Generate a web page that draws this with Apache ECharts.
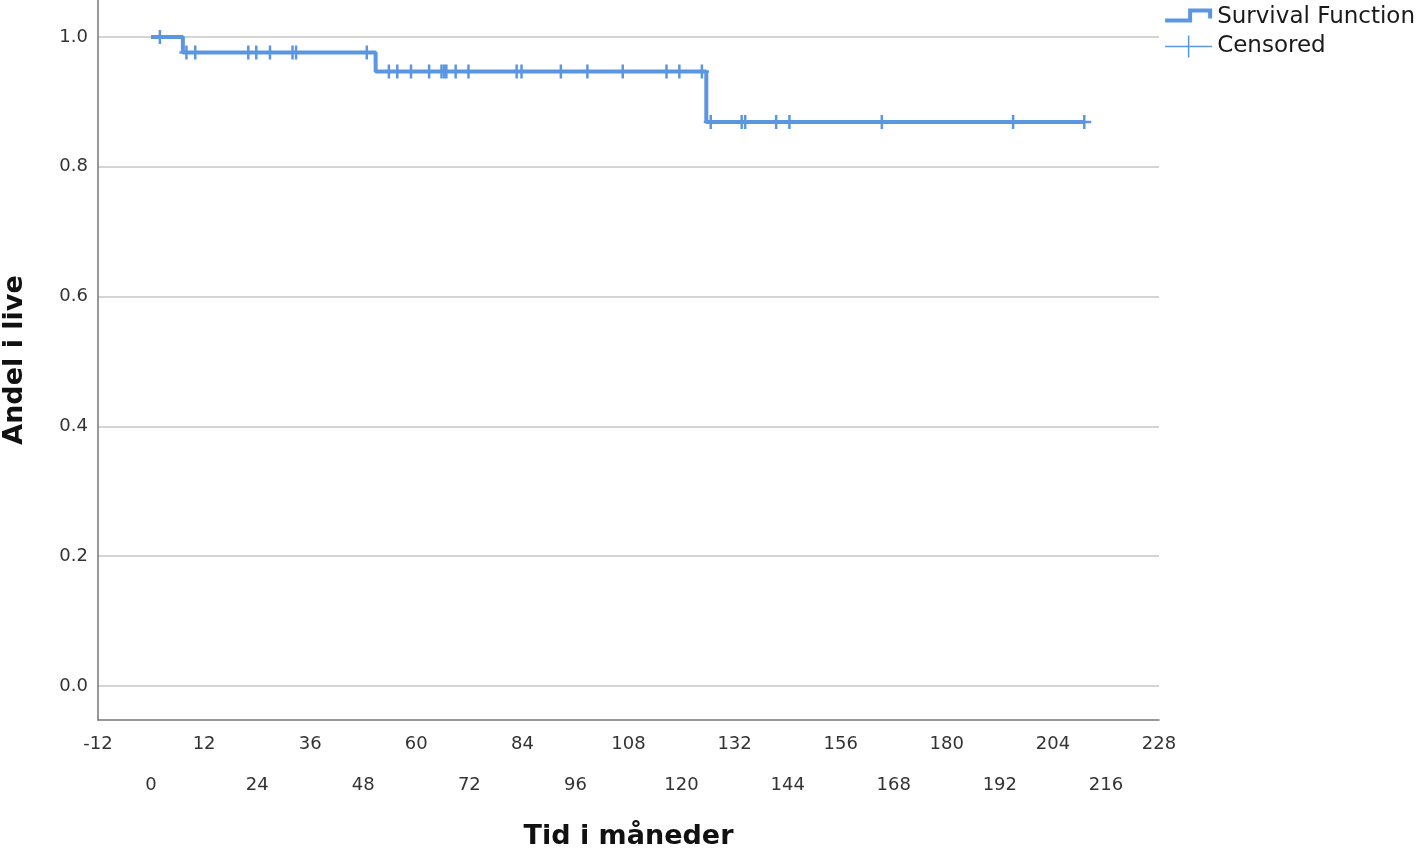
<!DOCTYPE html>
<html>
<head>
<meta charset="utf-8">
<script src="https://cdn.jsdelivr.net/npm/echarts@6/dist/echarts.min.js"></script>
<style>
html,body{margin:0;padding:0;background:#fff;}
#chart{width:1416px;height:849px;}
</style>
</head>
<body>
<div id="chart"></div>
<script>
// Step function of the survival estimate
const survTimes = [0, 7.2, 50.8, 125.6, 211.1];
const survValues = [1.0, 0.976, 0.947, 0.869, 0.869];
// Censored observation times (months)
const censoredTimes = [2.0, 8.0, 10.0, 22.0, 23.8, 26.9, 32.0, 32.8, 48.8, 53.8, 55.7, 58.8, 62.9, 65.7, 66.3, 66.8, 68.9, 71.8, 82.7, 83.8, 92.7, 98.7, 106.7, 116.6, 119.5, 124.6, 126.6, 133.6, 134.4, 141.4, 144.4, 165.3, 195.0, 211.1];
const yTicks = [0, 0.2, 0.4, 0.6, 0.8, 1.0];
const xTicks = [-12, 0, 12, 24, 36, 48, 60, 72, 84, 96, 108, 120, 132, 144, 156, 168, 180, 192, 204, 216, 228];

const survData = survTimes.map((t, i) => [t, survValues[i]]);
function survAt(t) {
  let v = survValues[0];
  for (let i = 0; i < survTimes.length; i++) { if (survTimes[i] <= t) v = survValues[i]; }
  return v;
}
const censData = censoredTimes.map(t => [t, survAt(t)]);

const blue = '#5b96e0';
const survIcon = 'path://M0,0 L0.05,0 L0,0.05 Z M47,22 L46.95,22 L47,21.95 Z M0,12 H23 V2 H47 V12 H43 V6 H27 V16 H0 Z';
const censIcon = 'path://M0,10.25 H22.75 V0 H24.25 V10.25 H47 V11.75 H24.25 V22 H22.75 V11.75 H0 Z';
const plusSym = 'path://M0,5.75 H5.75 V0 H8.25 V5.75 H14 V8.25 H8.25 V14 H5.75 V8.25 H0 Z';

const chart = echarts.init(document.getElementById('chart'), null, {renderer: 'canvas'});
chart.setOption({
  animation: false,
  backgroundColor: '#ffffff',
  grid: {left: 98, right: 257, top: 0, bottom: 129, containLabel: false, outerBoundsMode: 'none'},
  legend: {
    orient: 'vertical', right: 1, top: 6, padding: 0,
    itemWidth: 47, itemHeight: 22, itemGap: 6,
    align: 'left',
    textStyle: {fontFamily: 'DejaVu Sans', fontSize: 23, color: '#1a1a1a', padding: [0,0,0,0]},
    itemStyle: {borderWidth: 0},
    selectedMode: false,
    data: [
      {name: 'Survival Function', icon: survIcon},
      {name: 'Censored', icon: censIcon}
    ]
  },
  xAxis: {
    type: 'value', min: -12, max: 228, interval: 12,
    name: 'Tid i måneder', nameLocation: 'middle', nameGap: 103,
    nameTextStyle: {fontFamily: 'DejaVu Sans', fontWeight: 'bold', fontSize: 27, color: '#111'},
    axisLine: {show: true, onZero: false, lineStyle: {color: '#777', width: 1.5}},
    axisTick: {show: false},
    splitLine: {show: false},
    axisLabel: {
      margin: 14, fontFamily: 'DejaVu Sans', fontSize: 18, color: '#333', lineHeight: 20.5,
      showMinLabel: true, showMaxLabel: true, hideOverlap: false,
      formatter: function (v) {
        const k = Math.round((v + 12) / 12);
        return (k % 2 === 0) ? String(v) : '\n\n' + v;
      }
    }
  },
  yAxis: {
    type: 'value', min: -0.0524, max: 1.057,
    name: 'Andel i live', nameLocation: 'middle', nameGap: 70, nameRotate: 90,
    nameTextStyle: {fontFamily: 'DejaVu Sans', fontWeight: 'bold', fontSize: 27, color: '#111'},
    axisLine: {show: true, onZero: false, lineStyle: {color: '#777', width: 1.5}},
    axisTick: {show: false, customValues: yTicks},
    splitLine: {show: true, lineStyle: {color: '#c6c6c6', width: 1.5}},
    axisLabel: {
      margin: 10, fontFamily: 'DejaVu Sans', fontSize: 18, color: '#333',
      customValues: yTicks,
      formatter: v => v.toFixed(1)
    }
  },
  series: [
    {
      name: 'Survival Function', type: 'line', step: 'end',
      data: survData, showSymbol: false, symbol: 'none',
      color: blue,
      lineStyle: {color: blue, width: 4},
      z: 2
    },
    {
      name: 'Censored', type: 'scatter',
      data: censData, symbol: plusSym, symbolSize: [14, 14],
      color: blue,
      itemStyle: {color: blue, opacity: 1},
      z: 3
    }
  ]
});
</script>
</body>
</html>
